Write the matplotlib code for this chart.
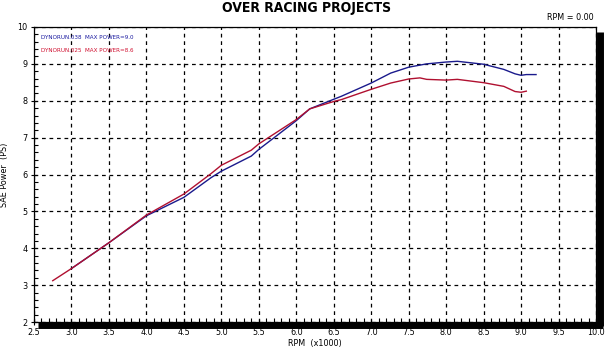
import matplotlib
matplotlib.use('Agg')
import matplotlib.pyplot as plt
from matplotlib.lines import Line2D
from matplotlib.ticker import MultipleLocator, FormatStrFormatter

plt.rcParams['font.family'] = ['Liberation Sans Narrow', 'DejaVu Sans']
plt.rcParams['font.stretch'] = 'condensed'

# DYNORUN.038 (blue)
rpm_038 = [3.0, 3.5, 4.0, 4.5, 4.86, 5.0, 5.4, 5.5, 6.0, 6.18, 6.5, 6.6, 7.0, 7.26,
           7.5, 7.74, 8.0, 8.15, 8.5, 8.77, 8.92, 9.0, 9.07, 9.2]
pow_038 = [3.45, 4.15, 4.88, 5.38, 5.91, 6.09, 6.5, 6.68, 7.46, 7.78, 8.04, 8.12, 8.48, 8.75,
           8.91, 9.0, 9.05, 9.07, 8.99, 8.85, 8.73, 8.69, 8.71, 8.71]

# DYNORUN.025 (red)
rpm_025 = [2.75, 3.0, 3.5, 4.0, 4.5, 4.86, 5.0, 5.4, 5.5, 6.0, 6.18, 6.5, 6.6,
           7.0, 7.26, 7.5, 7.65, 7.74, 8.0, 8.15, 8.5, 8.77, 8.92, 9.0, 9.07]
pow_025 = [3.12, 3.45, 4.15, 4.9, 5.47, 6.02, 6.25, 6.66, 6.83, 7.49, 7.78, 7.98, 8.03,
           8.31, 8.48, 8.59, 8.62, 8.58, 8.56, 8.58, 8.49, 8.39, 8.25, 8.23, 8.26]

legend_lines = ['DYNORUN.038  MAX POWER=9.0', 'DYNORUN.025  MAX POWER=8.6']

W, H = 614, 351
fig = plt.figure(figsize=(W / 100, H / 100), dpi=100, facecolor='white')
left, right, top, bottom = 34, 596, 27, 322
ax = fig.add_axes([left / W, 1 - bottom / H, (right - left) / W, (bottom - top) / H])

ax.plot(rpm_038, pow_038, color='#1a1a8c', lw=1.0, zorder=3)
ax.plot(rpm_025, pow_025, color='#b01030', lw=1.0, zorder=3)

ax.set_xlim(2.5, 10.0)
ax.set_ylim(2, 10)
ax.xaxis.set_major_locator(MultipleLocator(0.5))
ax.xaxis.set_minor_locator(MultipleLocator(0.1))
ax.yaxis.set_major_locator(MultipleLocator(1))
ax.yaxis.set_minor_locator(MultipleLocator(0.2))
ax.xaxis.set_major_formatter(FormatStrFormatter('%.1f'))
ax.yaxis.set_major_formatter(FormatStrFormatter('%d'))
ax.tick_params(which='major', direction='inout', length=5, width=0.8, labelsize=6.5, pad=2)
ax.tick_params(which='minor', direction='in', length=3, width=0.8)
ax.grid(True, which='major', color='black', linestyle=(0, (3, 3)), lw=0.9)

for s in ['left', 'top', 'right', 'bottom']:
    ax.spines[s].set_color('black')
    ax.spines[s].set_linewidth(0.9)

ax.set_xlabel('RPM  (x1000)', fontsize=6.5, labelpad=1)
ax.set_ylabel('SAE Power  (PS)', fontsize=6.5, labelpad=6)

# drop shadow along right and bottom edges
fig.add_artist(Line2D([(right + 4) / W, (right + 4) / W],
                      [1 - (top + 5) / H, 1 - (bottom + 4) / H],
                      color='black', lw=5, solid_capstyle='butt'))
fig.add_artist(Line2D([(left + 4) / W, (right + 6.5) / W],
                      [1 - (bottom + 3) / H, 1 - (bottom + 3) / H],
                      color='black', lw=5, solid_capstyle='butt'))

ax.text(0.012, 0.965, legend_lines[0], transform=ax.transAxes, fontsize=4.5,
        color='#1a1aa0', va='center')
ax.text(0.012, 0.92, legend_lines[1], transform=ax.transAxes, fontsize=4.5,
        color='#d01030', va='center')

fig.text(0.5, 1 - 8 / H, 'OVER RACING PROJECTS', ha='center', va='center',
         fontsize=10, fontweight='bold')
fig.text(594 / W, 1 - 18 / H, 'RPM = 0.00', ha='right', va='center', fontsize=6.5)

fig.savefig('out.png', dpi=100, facecolor='white')
